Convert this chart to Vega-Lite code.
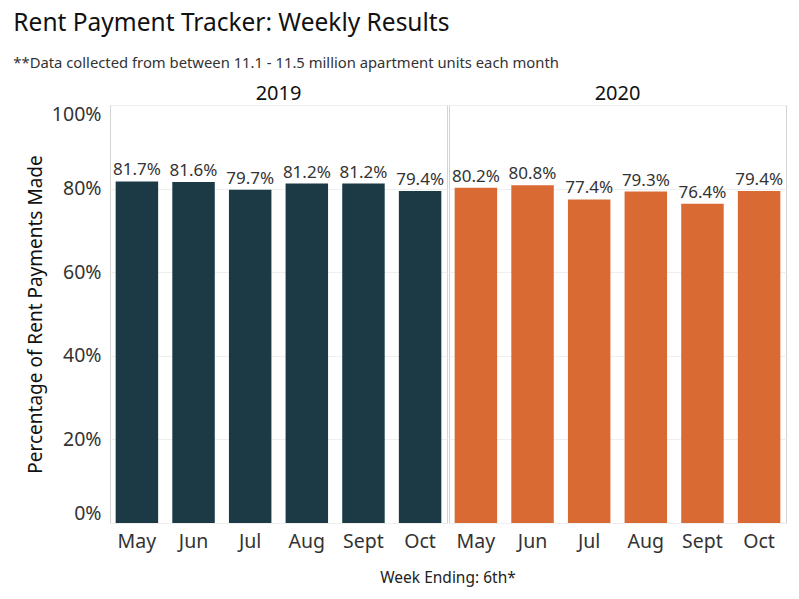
{
  "$schema": "https://vega.github.io/schema/vega-lite/v6.json",
  "padding": {"left": 13, "top": 10, "right": 10, "bottom": 4},
  "background": "white",
  "title": {
    "text": "Rent Payment Tracker: Weekly Results",
    "subtitle": "**Data collected from between 11.1 - 11.5 million apartment units each month",
    "anchor": "start",
    "frame": "bounds",
    "dx": -13,
    "font": "Noto Sans",
    "fontSize": 24.5,
    "fontWeight": "normal",
    "color": "#111111",
    "subtitleFont": "Noto Sans",
    "subtitleFontSize": 14.8,
    "subtitleColor": "#333333",
    "subtitlePadding": 20,
    "offset": 12
  },
  "data": {
    "values": [
      {"year": "2019", "month": "May", "pct": 0.817},
      {"year": "2019", "month": "Jun", "pct": 0.816},
      {"year": "2019", "month": "Jul", "pct": 0.797},
      {"year": "2019", "month": "Aug", "pct": 0.812},
      {"year": "2019", "month": "Sept", "pct": 0.812},
      {"year": "2019", "month": "Oct", "pct": 0.794},
      {"year": "2020", "month": "May", "pct": 0.802},
      {"year": "2020", "month": "Jun", "pct": 0.808},
      {"year": "2020", "month": "Jul", "pct": 0.774},
      {"year": "2020", "month": "Aug", "pct": 0.793},
      {"year": "2020", "month": "Sept", "pct": 0.764},
      {"year": "2020", "month": "Oct", "pct": 0.794}
    ]
  },
  "facet": {
    "column": {
      "field": "year",
      "type": "ordinal",
      "title": "Week Ending: 6th*",
      "header": {
        "titleOrient": "bottom",
        "titleFont": "Noto Sans",
        "titleFontSize": 15.5,
        "titleFontWeight": "normal",
        "titleColor": "#222222",
        "titlePadding": 10,
        "labelOrient": "top",
        "labelFont": "Noto Sans",
        "labelFontSize": 20,
        "labelColor": "#111111",
        "labelPadding": 0
      }
    }
  },
  "spacing": 0,
  "spec": {
    "width": 337,
    "height": 418,
    "encoding": {
      "x": {
        "field": "month",
        "type": "nominal",
        "sort": ["May", "Jun", "Jul", "Aug", "Sept", "Oct"],
        "scale": {"paddingInner": 0.25, "paddingOuter": 0.1},
        "axis": {
          "title": null,
          "labelAngle": 0,
          "labelFont": "Noto Sans",
          "labelFontSize": 19.5,
          "labelColor": "#333333",
          "labelPadding": 8,
          "ticks": false,
          "domain": false
        }
      },
      "y": {
        "field": "pct",
        "type": "quantitative",
        "scale": {"domain": [0, 1]},
        "axis": {
          "title": "Percentage of Rent Payments Made",
          "values": [0, 0.2, 0.4, 0.6, 0.8, 1],
          "format": ".0%",
          "labelFont": "Noto Sans",
          "labelFontSize": 19.5,
          "labelColor": "#333333",
          "labelPadding": 8,
          "labelFlush": true,
          "labelFlushOffset": 0,
          "ticks": false,
          "domain": false,
          "gridColor": "#efefef",
          "titleFont": "Noto Sans",
          "titleFontSize": 19,
          "titleFontWeight": "normal",
          "titleColor": "#111111",
          "titlePadding": 6
        }
      }
    },
    "layer": [
      {
        "mark": {"type": "bar"},
        "encoding": {
          "color": {
            "field": "year",
            "type": "nominal",
            "scale": {"domain": ["2019", "2020"], "range": ["#1b3a45", "#d96a33"]},
            "legend": null
          }
        }
      },
      {
        "mark": {
          "type": "text",
          "baseline": "bottom",
          "dy": -2,
          "font": "Noto Sans",
          "fontSize": 17,
          "color": "#333333"
        },
        "encoding": {
          "text": {"field": "pct", "type": "quantitative", "format": ".1%"}
        }
      }
    ]
  },
  "config": {
    "view": {"stroke": "#d4d4d4"}
  }
}
